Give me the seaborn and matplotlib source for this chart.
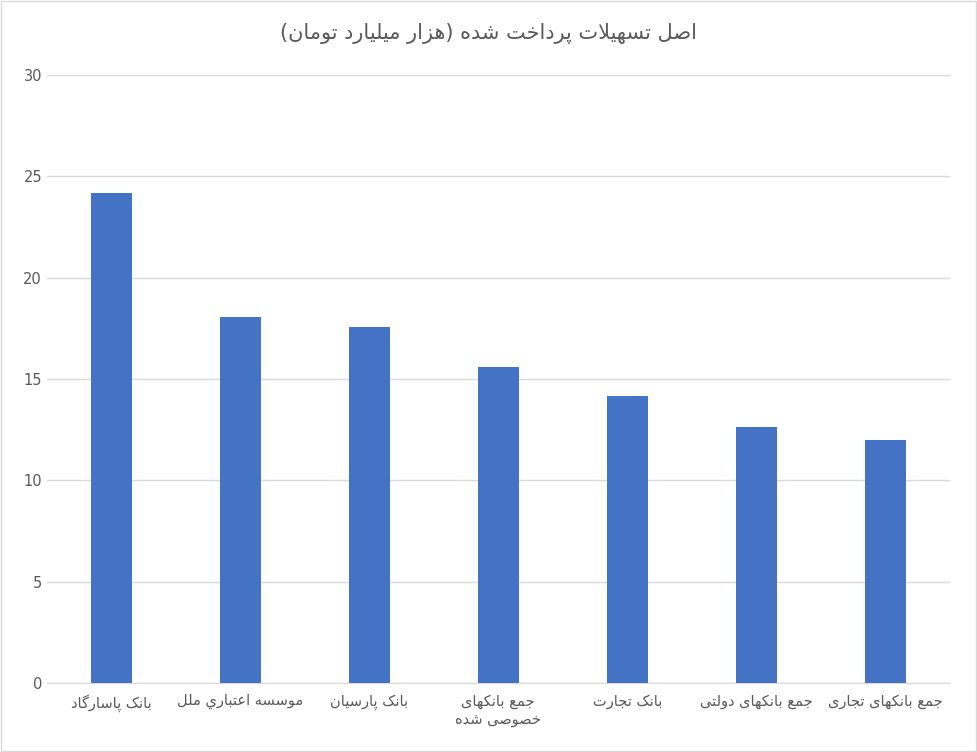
import matplotlib
matplotlib.use("Agg")
import matplotlib.pyplot as plt
import seaborn as sns
import pandas as pd

categories = ["بانک پاسارگاد", "موسسه اعتباري ملل", "بانک پارسیان", "جمع بانکهای\nخصوصی شده",
              "بانک تجارت", "جمع بانکهای دولتی", "جمع بانکهای تجاری"]
values = [24.2, 18.05, 17.55, 15.6, 14.15, 12.65, 12.0]
title = "اصل تسهیلات پرداخت شده (هزار میلیارد تومان)"
yticks = [0, 5, 10, 15, 20, 25, 30]

# minimal Arabic/Persian shaping (isolated, final, initial, medial)
F = {
 'ا': (0xFE8D, 0xFE8E, None, None), 'آ': (0xFE81, 0xFE82, None, None),
 'ب': (0xFE8F, 0xFE90, 0xFE91, 0xFE92), 'پ': (0xFB56, 0xFB57, 0xFB58, 0xFB59),
 'ت': (0xFE95, 0xFE96, 0xFE97, 0xFE98), 'ث': (0xFE99, 0xFE9A, 0xFE9B, 0xFE9C),
 'ج': (0xFE9D, 0xFE9E, 0xFE9F, 0xFEA0), 'چ': (0xFB7A, 0xFB7B, 0xFB7C, 0xFB7D),
 'ح': (0xFEA1, 0xFEA2, 0xFEA3, 0xFEA4), 'خ': (0xFEA5, 0xFEA6, 0xFEA7, 0xFEA8),
 'د': (0xFEA9, 0xFEAA, None, None), 'ذ': (0xFEAB, 0xFEAC, None, None),
 'ر': (0xFEAD, 0xFEAE, None, None), 'ز': (0xFEAF, 0xFEB0, None, None),
 'ژ': (0xFB8A, 0xFB8B, None, None),
 'س': (0xFEB1, 0xFEB2, 0xFEB3, 0xFEB4), 'ش': (0xFEB5, 0xFEB6, 0xFEB7, 0xFEB8),
 'ص': (0xFEB9, 0xFEBA, 0xFEBB, 0xFEBC), 'ض': (0xFEBD, 0xFEBE, 0xFEBF, 0xFEC0),
 'ط': (0xFEC1, 0xFEC2, 0xFEC3, 0xFEC4), 'ظ': (0xFEC5, 0xFEC6, 0xFEC7, 0xFEC8),
 'ع': (0xFEC9, 0xFECA, 0xFECB, 0xFECC), 'غ': (0xFECD, 0xFECE, 0xFECF, 0xFED0),
 'ف': (0xFED1, 0xFED2, 0xFED3, 0xFED4), 'ق': (0xFED5, 0xFED6, 0xFED7, 0xFED8),
 'ک': (0xFB8E, 0xFB8F, 0xFB90, 0xFB91), 'ك': (0xFED9, 0xFEDA, 0xFEDB, 0xFEDC),
 'گ': (0xFB92, 0xFB93, 0xFB94, 0xFB95), 'ل': (0xFEDD, 0xFEDE, 0xFEDF, 0xFEE0),
 'م': (0xFEE1, 0xFEE2, 0xFEE3, 0xFEE4), 'ن': (0xFEE5, 0xFEE6, 0xFEE7, 0xFEE8),
 'و': (0xFEED, 0xFEEE, None, None), 'ه': (0xFEE9, 0xFEEA, 0xFEEB, 0xFEEC),
 'ی': (0xFBFC, 0xFBFD, 0xFBFE, 0xFBFF), 'ي': (0xFEF1, 0xFEF2, 0xFEF3, 0xFEF4),
}

def shape_line(s):
    chars = list(s)
    out = []
    i = 0
    n = len(chars)
    def joins_left(c):
        return c in F and F[c][2] is not None
    while i < n:
        c = chars[i]
        if c not in F:
            out.append(c); i += 1; continue
        prev = chars[i-1] if i > 0 else None
        cp = prev is not None and joins_left(prev)
        if c == 'ل' and i + 1 < n and chars[i+1] == 'ا':
            out.append(chr(0xFEFC if cp else 0xFEFB)); i += 2; continue
        nxt = chars[i+1] if i + 1 < n else None
        cn = joins_left(c) and nxt in F
        iso, fin, ini, med = F[c]
        if cp and cn: g = med
        elif cp: g = fin
        elif cn: g = ini
        else: g = iso
        out.append(chr(g)); i += 1
    r = ''.join(reversed(out))
    return r.translate(str.maketrans('()', ')('))

def shape(s):
    return '\n'.join(shape_line(l) for l in s.split('\n'))

plt.rcParams['font.family'] = ['DejaVu Sans']
df = pd.DataFrame({"cat": [shape(c) for c in categories], "val": values})

fig = plt.figure(figsize=(9.77, 7.52), dpi=100)
ax = fig.add_axes([0.048, 0.092, 0.924, 0.808])
sns.barplot(data=df, x="cat", y="val", color="#4472C4", width=0.32, saturation=1, ax=ax, zorder=3)
ax.set_xlim(-0.5, 6.5)
ax.set_ylim(0, 30)
ax.set_yticks(yticks)
ax.grid(axis='y', color='#D9D9D9', linewidth=1, zorder=0)
ax.set_xlabel(""); ax.set_ylabel("")
for s in ['top', 'right', 'left']:
    ax.spines[s].set_visible(False)
ax.spines['bottom'].set_color('#D9D9D9')
ax.tick_params(axis='both', length=0, colors='#595959', labelsize=10.5)
ax.tick_params(axis='x', pad=8)
fig.text(0.5, 0.955, shape(title), ha='center', va='center', fontsize=15, color='#595959')
fig.patches.append(plt.Rectangle((0.001, 0.001), 0.998, 0.998, transform=fig.transFigure,
                                 fill=False, edgecolor='#D9D9D9', linewidth=1))
fig.savefig("out.png", dpi=100)
